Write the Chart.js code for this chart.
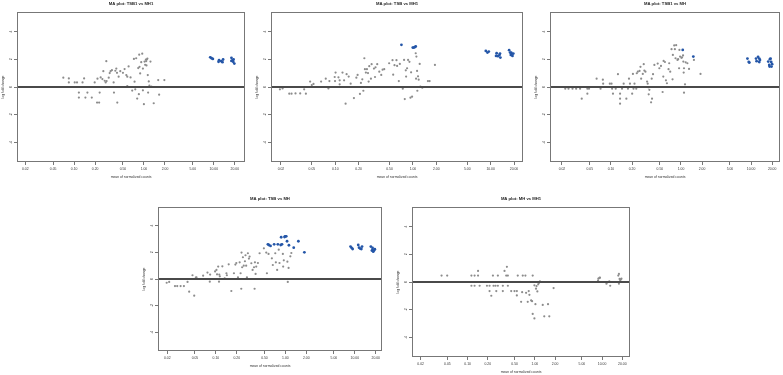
<!DOCTYPE html>
<html>
<head>
<meta charset="utf-8">
<script src="https://cdn.jsdelivr.net/npm/chart.js@4.4.1/dist/chart.umd.min.js"></script>
<style>
body{margin:0;background:#fff;width:783px;height:375px;position:relative;overflow:hidden}
.p{position:absolute}
</style>
</head>
<body>
<div class="p" id="w1"><canvas id="c1"></canvas></div>
<div class="p" id="w2"><canvas id="c2"></canvas></div>
<div class="p" id="w3"><canvas id="c3"></canvas></div>
<div class="p" id="w4"><canvas id="c4"></canvas></div>
<div class="p" id="w5"><canvas id="c5"></canvas></div>
<script>
// tick labels shared by all panels
const xTicks = [0.02, 0.05, 0.1, 0.2, 0.5, 1, 2, 5, 10, 20];
const yTicks = [-4, -2, 0, 2, 4];

// [mean of normalized counts, log fold change]
const tsb1Mh1Other = [[0.020,0],[0.022,0],[0.025,0],[0.028,0],[0.031,0],[0.034,0],[0.037,0],[0.041,0],[0.046,0],[0.052,0],[0.058,0],[0.064,0],[0.090,0],[0.12,0],[0.16,0],[0.19,0],
  [0.070,0.67],[0.084,0.62],[0.084,0.33],[0.102,0.33],[0.110,0.33],[0.117,-0.40],[0.117,-0.76],[0.132,0.33],[0.139,0.62],[0.145,-0.76],[0.155,-0.40],[0.179,-0.76],[0.197,0.33],[0.213,-1.12],[0.228,-1.12],[0.216,0.60],[0.232,-0.40],[0.240,0.69],[0.254,0.57],[0.262,1.14],[0.274,0.45],[0.283,0.33],[0.289,1.86],[0.292,0.43],[0.313,0.67],[0.323,1.0],[0.333,1.14],[0.348,1.21],[0.368,0.33],[0.372,-0.40],[0.389,1.17],[0.402,1.33],[0.411,1.02],[0.415,-1.12],[0.434,0.74],[0.458,1.14],[0.500,1.02],[0.528,1.29],[0.559,0.86],[0.577,0.74],[0.577,0.07],[0.603,1.48],[0.643,0.69],[0.679,-0.26],[0.718,2.02],[0.734,0.38],[0.751,-0.17],[0.774,2.07],[0.800,-0.83],[0.828,1.36],[0.846,-0.52],[0.855,2.33],[0.864,1.45],[0.883,0.98],[0.914,1.79],[0.945,2.40],[0.966,1.33],[0.966,-0.24],[0.998,-1.24],[1.02,1.83],[1.04,1.60],[1.064,1.98],[1.075,1.86],[1.087,1.55],[1.10,1.98],[1.12,2.05],[1.135,0.86],[1.147,-0.40],[1.172,0.40],[1.197,0.10],[1.24,1.83],[1.28,0.02],[1.38,-1.17],[1.60,0.50],[1.65,-0.55],[1.96,0.50]];
const tsb1Mh1Sig = [[8.9,2.14],[9.3,2.07],[9.7,2.02],[11.7,1.81],[11.9,1.93],[12.8,1.86],[13.3,1.79],[13.6,1.98],[17.9,2.10],[17.9,1.88],[18.6,1.93],[19.0,1.81],[19.2,1.98],[19.7,1.69]];

const tsbMh1Other = [[0.0194,-0.17],[0.021,-0.10],[0.0256,-0.48],[0.0274,-0.48],[0.0308,-0.46],[0.0354,-0.46],[0.0398,-0.17],[0.0419,-0.48],[0.0475,0.39],[0.0499,0.14],[0.0525,0.22],[0.0658,0.39],[0.0755,0.60],[0.0817,-0.10],[0.0841,0.43],[0.0984,0.72],[0.0994,0.43],[0.101,1.04],[0.110,0.70],[0.114,0.19],[0.114,0.48],[0.124,1.04],[0.130,0.48],[0.136,-1.20],[0.140,0.92],[0.149,0.75],[0.158,0.24],[0.174,-0.80],[0.187,0.67],[0.194,0.87],[0.208,-0.50],[0.214,0.29],[0.223,0.55],[0.230,-0.27],[0.237,2.07],[0.241,1.28],[0.248,1.04],[0.256,1.28],[0.264,1.00],[0.269,0.39],[0.274,1.50],[0.288,0.60],[0.294,1.64],[0.315,1.33],[0.325,0.72],[0.330,1.42],[0.347,1.64],[0.365,0],[0.369,1.10],[0.391,0.87],[0.407,1.25],[0.427,1.28],[0.494,1.71],[0.546,1.93],[0.557,0.89],[0.579,1.57],[0.614,1.93],[0.626,1.52],[0.658,0.43],[0.678,1.66],[0.740,-0.12],[0.769,1.95],[0.785,-0.87],[0.809,1.20],[0.817,0.75],[0.841,1.35],[0.866,1.95],[0.902,1.81],[0.929,-0.77],[0.947,1.06],[0.975,-0.70],[1.086,2.43],[1.097,0.60],[1.108,2.19],[1.13,1.16],[1.14,-0.27],[1.163,0.77],[1.186,0.53],[1.222,1.66],[1.246,0.02],[1.32,-0.05],[1.56,0.43],[1.64,0.43],[1.92,1.59]];
const tsbMh1Sig = [[0.711,3.04],[0.995,2.84],[1.024,2.84],[1.054,2.87],[1.086,2.92],[8.67,2.60],[9.1,2.48],[9.47,2.55],[11.75,2.24],[11.95,2.43],[12.4,2.22],[13.0,2.31],[13.2,2.41],[13.35,2.12],[17.3,2.65],[17.8,2.48],[18.2,2.31],[18.4,2.48],[18.7,2.39],[19.1,2.24],[19.6,2.41]];

const tsb1MhOther = [[0.0176,0],[0.0196,0],[0.0223,-0.12],[0.0248,-0.12],[0.0283,-0.12],[0.0319,-0.12],[0.0363,-0.12],[0.0383,-0.84],[0.0461,-0.48],[0.0461,-0.12],[0.0487,-0.12],[0.0625,0.60],[0.0711,-0.12],[0.0767,0.53],[0.0775,0.24],[0.0964,0.24],[0.102,0.24],[0.104,-0.12],[0.107,-0.48],[0.117,-0.12],[0.126,0.92],[0.135,-0.48],[0.135,-0.84],[0.135,-1.20],[0.144,-0.12],[0.152,0.24],[0.166,-0.84],[0.175,-0.12],[0.181,0.60],[0.187,0.24],[0.201,-0.48],[0.206,0.94],[0.210,-0.12],[0.217,0.24],[0.230,-0.12],[0.234,0.99],[0.242,1.10],[0.256,1.16],[0.264,1.45],[0.270,0.60],[0.285,0.94],[0.294,1.64],[0.300,1.18],[0.311,1.10],[0.328,0.39],[0.335,0.24],[0.342,-0.02],[0.346,-0.53],[0.354,-0.20],[0.374,-1.10],[0.382,0.60],[0.386,-0.84],[0.399,0.92],[0.417,1.59],[0.465,1.69],[0.491,1.35],[0.518,1.52],[0.547,-0.36],[0.559,0.75],[0.565,1.88],[0.590,1.80],[0.610,0.48],[0.630,0.27],[0.664,1.28],[0.679,1.71],[0.702,1.10],[0.733,2.72],[0.758,0.55],[0.766,2.31],[0.800,2.99],[0.818,2.72],[0.836,2.07],[0.853,3.01],[0.891,1.95],[0.911,2.00],[0.940,1.35],[0.950,2.67],[0.971,2.19],[1.014,2.10],[1.036,2.14],[1.07,2.27],[1.08,1.83],[1.093,1.04],[1.104,-0.41],[1.104,1.35],[1.141,0.19],[1.167,1.78],[1.234,1.71],[1.303,1.30],[1.53,1.95],[1.90,0.94]];
const tsb1MhSig = [[1.059,2.67],[1.50,2.19],[8.88,2.05],[9.27,1.80],[9.47,1.76],[11.78,2.05],[12.0,1.86],[12.6,2.17],[13.1,1.80],[13.1,2.05],[13.4,1.95],[17.6,1.83],[18.2,1.59],[18.4,1.47],[18.6,2.00],[19.0,2.05],[19.4,1.80],[19.6,1.47],[20.0,1.64]];

const tsbMhOther = [[0.0196,-0.28],[0.0213,-0.22],[0.0258,-0.53],[0.0278,-0.53],[0.0311,-0.53],[0.0347,-0.53],[0.0391,-0.22],[0.0413,-0.95],[0.0461,0.28],[0.0488,-1.25],[0.0515,0.10],[0.0526,0.12],[0.0656,0.25],[0.0757,0.48],[0.0818,-0.20],[0.0827,0.33],[0.0975,0.57],[0.102,0.68],[0.104,0.35],[0.108,0.93],[0.111,-0.20],[0.112,0.33],[0.114,0.20],[0.124,0.95],[0.134,0.05],[0.142,0.43],[0.144,0.28],[0.153,1.10],[0.167,-0.90],[0.182,0.43],[0.191,1.08],[0.197,1.20],[0.208,0.12],[0.220,1.25],[0.227,0.43],[0.232,-0.73],[0.234,1.98],[0.239,0.88],[0.245,1.63],[0.252,1.00],[0.262,1.33],[0.267,1.78],[0.273,1.00],[0.280,0.12],[0.289,1.93],[0.299,1.53],[0.306,1.68],[0.324,1.18],[0.338,0.68],[0.354,0.88],[0.361,-0.73],[0.365,1.25],[0.373,0.38],[0.381,0.93],[0.403,1.20],[0.426,1.93],[0.491,2.30],[0.531,1.98],[0.543,0.43],[0.573,1.88],[0.640,1.55],[0.660,1.05],[0.716,1.93],[0.730,1.25],[0.762,0.68],[0.803,2.20],[0.824,1.20],[0.921,1.88],[0.930,0.93],[0.950,1.40],[1.07,1.30],[1.084,-0.22],[1.113,0.83],[1.18,1.70],[1.22,1.95]];
const tsbMhSig = [[0.561,2.60],[0.580,2.55],[0.612,2.48],[0.690,2.60],[0.780,2.60],[0.857,2.55],[0.871,3.13],[0.895,2.60],[0.973,3.15],[0.995,3.20],[1.03,3.20],[1.058,2.83],[1.125,2.53],[1.32,2.35],[1.54,2.83],[1.88,2.00],[8.67,2.43],[9.0,2.33],[9.3,2.25],[11.2,2.55],[11.5,2.35],[11.9,2.28],[12.4,2.25],[12.7,2.43],[17.0,2.43],[17.6,2.13],[18.0,2.18],[18.0,2.33],[18.4,2.05],[18.9,2.13],[19.4,2.23]];

const mhMh1Other = [[0.020,0],[0.022,0],[0.025,0],[0.027,0],[0.030,0],[0.033,0],[0.036,0],[0.045,0],[0.055,0],[0.060,0],[0.068,0],[0.075,0],[0.085,0],[0.095,0],[0.105,0],[0.13,0],[0.16,0],[0.19,0],[0.22,0],[0.27,0],[0.31,0],
  [0.041,0.46],[0.0497,0.46],[0.114,0.46],[0.127,0.46],[0.143,0.46],[0.238,0.46],[0.282,0.46],[0.375,0.46],[0.397,0.46],[0.557,0.46],[0.661,0.46],[0.724,0.46],[0.929,0.46],[0.143,0.80],[0.354,0.80],[0.384,1.09],
  [0.114,-0.27],[0.127,-0.27],[0.151,-0.27],[0.194,-0.27],[0.212,-0.27],[0.243,-0.27],[0.260,-0.27],[0.282,-0.27],[0.334,-0.27],[0.397,-0.27],
  [0.212,-0.65],[0.267,-0.65],[0.334,-0.65],[0.445,-0.65],[0.498,-0.65],[0.540,-0.65],[0.647,-0.73],[0.741,-0.78],[0.811,-0.65],[0.225,-0.99],[0.540,-0.97],[0.625,-1.43],[0.784,-1.43],[0.880,-1.33],[0.910,-1.38],[1.02,-1.60],[1.31,-1.65],[1.57,-1.60],[0.929,-2.30],[0.985,-2.62],[1.38,-2.47],[1.64,-2.47],[0.830,-0.92],[0.985,-0.24],[1.04,-0.48],[1.06,-0.29],[1.09,-0.68],[1.12,-0.17],[1.15,-0.07],[1.19,0.05],[1.90,-0.44],
  [8.71,0.10],[8.8,0.24],[9.1,0.29],[9.3,0.31],[11.6,-0.12],[12.0,-0.02],[12.8,0.05],[13.2,-0.27],[17.4,0.46],[17.8,0.58],[17.8,-0.12],[18.2,0.22],[18.6,0.10],[19.0,0.19],[19.4,0.24],[18.8,0]];
const mhMh1Sig = [];

const FONT = '"Liberation Sans", Arial, sans-serif';
const LABEL_SIZE = 3.4;
const MAIN_SIZE = 4.2;

// box = frame left, top, width, height on the page
const panels = [
  {id: 1, title: 'MA plot: TSB1 vs MH1', other: tsb1Mh1Other, sig: tsb1Mh1Sig, box: [17, 12, 229, 150], xMin: 0.0152, xMax: 28},
  {id: 2, title: 'MA plot: TSB vs MH1', other: tsbMh1Other, sig: tsbMh1Sig, box: [271, 12, 253, 150], xMin: 0.0149, xMax: 26.1},
  {id: 3, title: 'MA plot: TSB1 vs MH', other: tsb1MhOther, sig: tsb1MhSig, box: [550, 12, 231, 150], xMin: 0.0135, xMax: 25.9},
  {id: 4, title: 'MA plot: TSB vs MH', other: tsbMhOther, sig: tsbMhSig, box: [158, 207, 225, 144], xMin: 0.0147, xMax: 24.6},
  {id: 5, title: 'MA plot: MH vs MH1', other: mhMh1Other, sig: mhMh1Sig, box: [412, 207, 219, 150], xMin: 0.0149, xMax: 26.0}
];

const LEFT = 17, TOP = 12, BOTTOM = 18, RIGHT = 3;

const framePlugin = {
  id: 'frame',
  afterDatasetsDraw(chart) {
    const {ctx, chartArea: a, scales: {y}} = chart;
    const y0 = y.getPixelForValue(0);
    ctx.save();
    ctx.strokeStyle = '#4a4a4a';
    ctx.lineWidth = 2;
    ctx.beginPath();
    ctx.moveTo(a.left, y0);
    ctx.lineTo(a.right, y0);
    ctx.stroke();
    ctx.strokeStyle = '#777';
    ctx.lineWidth = 1;
    ctx.strokeRect(a.left + 0.5, a.top + 0.5, a.right - a.left - 1, a.bottom - a.top - 1);
    // R style rotated y tick labels
    ctx.fillStyle = '#333';
    ctx.font = LABEL_SIZE + 'px ' + FONT;
    ctx.textAlign = 'center';
    ctx.textBaseline = 'middle';
    y.ticks.forEach(t => {
      ctx.save();
      ctx.translate(a.left - 6, y.getPixelForValue(t.value));
      ctx.rotate(-Math.PI / 2);
      ctx.fillText(String(t.value), 0, 0);
      ctx.restore();
    });
    ctx.restore();
  }
};

function drawPanel(p) {
  const w = document.getElementById('w' + p.id);
  w.style.left = (p.box[0] - LEFT) + 'px';
  w.style.top = (p.box[1] - TOP) + 'px';
  w.style.width = (p.box[2] + LEFT + RIGHT) + 'px';
  w.style.height = (p.box[3] + TOP + BOTTOM) + 'px';

  new Chart(document.getElementById('c' + p.id), {
    type: 'scatter',
    data: {
      datasets: [{
        data: p.other.map(d => ({x: d[0], y: d[1]})),
        pointRadius: 1.1,
        pointBorderWidth: 0,
        pointBackgroundColor: '#8c8c8c'
      }, {
        data: p.sig.map(d => ({x: d[0], y: d[1]})),
        pointRadius: 1.4,
        pointBorderWidth: 0,
        pointBackgroundColor: '#2456a8'
      }]
    },
    options: {
      responsive: true,
      maintainAspectRatio: false,
      animation: false,
      events: [],
      layout: {padding: {right: RIGHT}},
      plugins: {
        legend: {display: false},
        tooltip: {enabled: false},
        title: {
          display: true,
          text: p.title,
          fullSize: false,
          color: '#222',
          font: {size: MAIN_SIZE, weight: 'bold', family: FONT},
          padding: {top: 1.5, bottom: 12 - 1.5 - MAIN_SIZE * 1.2}
        }
      },
      scales: {
        x: {
          type: 'logarithmic',
          min: p.xMin,
          max: p.xMax,
          afterBuildTicks: s => { s.ticks = xTicks.map(v => ({value: v})); },
          afterFit: s => { s.height = BOTTOM; },
          border: {display: false},
          grid: {drawOnChartArea: false, drawTicks: true, tickLength: 3, color: '#777'},
          ticks: {
            autoSkip: false, maxRotation: 0, minRotation: 0, padding: 2.3,
            color: '#333', font: {size: LABEL_SIZE, family: FONT},
            callback: v => Number(v).toFixed(2)
          },
          title: {display: true, text: 'mean of normalized counts', color: '#333', font: {size: LABEL_SIZE, family: FONT}, padding: {top: 0, bottom: 1}}
        },
        y: {
          min: -5.4,
          max: 5.4,
          afterBuildTicks: s => { s.ticks = yTicks.map(v => ({value: v})); },
          afterFit: s => { s.width = LEFT; },
          border: {display: false},
          grid: {drawOnChartArea: false, drawTicks: true, tickLength: 3, tickColor: '#777'},
          ticks: {display: false},
          title: {display: true, text: 'log fold change', color: '#333', font: {size: LABEL_SIZE, family: FONT}, padding: {top: 1, bottom: 0}}
        }
      }
    },
    plugins: [framePlugin]
  });
}

panels.forEach(drawPanel);
</script>
</body>
</html>
